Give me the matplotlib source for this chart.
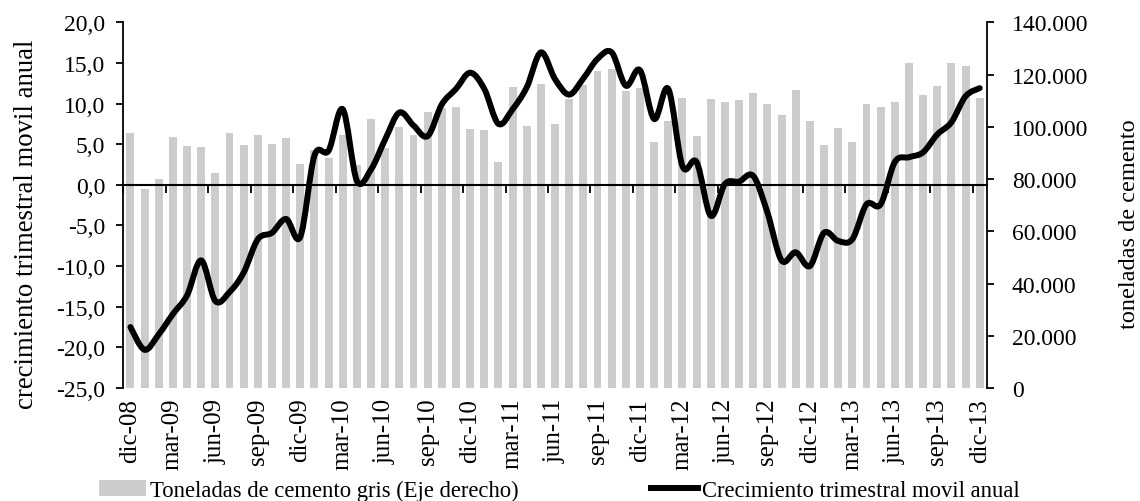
import numpy as np
import matplotlib
matplotlib.use("Agg")
from matplotlib import pyplot as plt
from matplotlib.path import Path
from matplotlib.patches import PathPatch, Patch
from matplotlib.lines import Line2D

# toneladas de cemento gris, dic-08 ... dic-13 (eje derecho)
toneladas = [97800, 76100, 80200, 96000, 92600, 92100, 82400, 97700, 93100, 96800,
             93400, 95700, 85800, 91200, 88100, 96900, 85400, 103000, 92000, 99900,
             97000, 105500, 107000, 107700, 99300, 98600, 86700, 115400, 100200, 116400,
             100900, 110500, 116000, 121500, 122000, 113700, 115000, 94000, 102200, 111000,
             96400, 110700, 109400, 110300, 113100, 108900, 104400, 114000, 102100, 93200,
             99600, 94200, 108900, 107600, 109300, 124400, 112100, 115500, 124400, 123400,
             111000]

# crecimiento trimestral movil anual (%), eje izquierdo
crecimiento = [-17.5, -20.3, -18.4, -15.9, -13.6, -9.3, -14.3, -13.2, -10.8, -6.7,
               -5.9, -4.2, -6.4, 3.6, 4.2, 9.3, 0.5, 1.9, 5.6, 8.9,
               7.3, 6.0, 9.9, 11.8, 13.8, 11.8, 7.5, 9.3, 12.0, 16.3,
               13.0, 11.1, 13.1, 15.5, 16.3, 12.2, 14.1, 8.1, 11.8, 2.3,
               2.8, -3.8, 0.1, 0.4, 1.1, -3.4, -9.3, -8.3, -10.0, -5.9,
               -6.9, -6.7, -2.4, -2.4, 2.8, 3.4, 4.0, 6.2, 7.7, 10.9,
               11.9]

etiquetas = ["dic-08", "mar-09", "jun-09", "sep-09", "dic-09", "mar-10", "jun-10",
             "sep-10", "dic-10", "mar-11", "jun-11", "sep-11", "dic-11", "mar-12",
             "jun-12", "sep-12", "dic-12", "mar-13", "jun-13", "sep-13", "dic-13"]

plt.rcParams['font.family'] = ['Liberation Serif', 'DejaVu Serif']

fig = plt.figure(figsize=(11.4, 5.02), dpi=100)
ax = fig.add_axes([0.1082, 0.2251, 0.7574, 0.7285])
ax2 = ax.twinx()
ax3 = ax.twiny()

n = len(toneladas)
x = np.arange(n)

# barras (eje derecho)
ax2.bar(x, toneladas, width=0.56, color="#cccccc", zorder=1)
ax2.set_ylim(0, 140000)
ax2.set_yticks(np.arange(0, 140001, 20000))
ax2.set_yticklabels([f"{v:,.0f}".replace(",", ".") for v in np.arange(0, 140001, 20000)])
ax2.tick_params(axis='y', direction='out', length=5, width=1.3, pad=13, labelsize=17)
ax2.set_ylabel("toneladas de cemento", fontsize=17.5)
ax2.yaxis.set_label_coords(1.153, 0.451)
for s in ["top", "left", "bottom"]:
    ax2.spines[s].set_visible(False)
ax2.spines["right"].set_linewidth(1.3)

# linea suavizada (eje izquierdo)
ax.set_zorder(ax2.get_zorder() + 1)
ax.patch.set_visible(False)
pts = np.column_stack([x, crecimiento])
verts = [pts[0]]
codes = [Path.MOVETO]
for i in range(n - 1):
    p0 = pts[max(i - 1, 0)]
    p3 = pts[min(i + 2, n - 1)]
    c1 = pts[i] + (pts[i + 1] - p0) / 6
    c2 = pts[i + 1] - (p3 - pts[i]) / 6
    verts += [c1, c2, pts[i + 1]]
    codes += [Path.CURVE4] * 3
ax.add_patch(PathPatch(Path(verts, codes), facecolor='none', edgecolor='black',
                       lw=4.3, capstyle='round', joinstyle='round', zorder=3))
ax.set_xlim(-0.5, n - 0.5)
ax.set_ylim(-25, 20)
yt = np.arange(-25, 21, 5)
ax.set_yticks(yt)
ax.set_yticklabels([f"{v:.1f}".replace(".", ",") for v in yt])
ax.tick_params(axis='y', direction='out', length=5, width=1.3, pad=8, labelsize=17)
ax.set_ylabel("crecimiento trimestral movil anual", fontsize=19.3)
ax.yaxis.set_label_coords(-0.098, 0.451)
ax.set_xticks(np.arange(0, n, 3))
ax.set_xticklabels(etiquetas, rotation=90, fontsize=18)
ax.tick_params(axis='x', length=0, pad=7)
for s in ["top", "right", "bottom"]:
    ax.spines[s].set_visible(False)
ax.spines["left"].set_linewidth(1.3)

# eje horizontal en el cero con marcas entre categorias
ax3.set_zorder(ax.get_zorder() + 1)
ax3.set_xlim(-0.5, n - 0.5)
ax3.xaxis.tick_bottom()
ax3.spines["bottom"].set_position(("data", 0))
ax3.spines["bottom"].set_linewidth(1.5)
for s in ["top", "left", "right"]:
    ax3.spines[s].set_visible(False)
ax3.set_xticks(np.arange(-0.5, n, 3))
ax3.set_xticklabels([])
ax3.tick_params(axis='x', direction='out', length=6, width=1.3)

handles = [Patch(facecolor="#cccccc", edgecolor="none"),
           Line2D([0], [0], color="black", lw=4.3)]
fig.legend(handles, ["Toneladas de cemento gris (Eje derecho)",
                     "Crecimiento trimestral movil anual"],
           loc="center", bbox_to_anchor=(559 / 1140, 1 - 491 / 502), ncol=2,
           frameon=False, fontsize=16.3, handlelength=2.1, handleheight=0.7,
           handletextpad=0.15, columnspacing=5.85, borderaxespad=0)

fig.savefig("out.png", dpi=100)
plt.close('all')
